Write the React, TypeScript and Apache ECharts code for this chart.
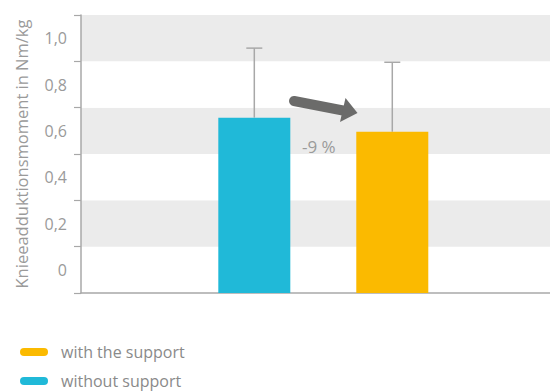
import React, { useEffect, useRef } from "react";
import * as echarts from "echarts";

const seriesNames = ["without support", "with the support"];
const positions = [1, 2];
const barValues = [0.757, 0.696];
const errorHigh = [1.057, 0.996];
const colors = ["#20B9D8", "#FBBA00"];
const tickLabels = ["0", "0,2", "0,4", "0,6", "0,8", "1,0"];
const changeLabel = "-9 %";
const axisName = "Knieeadduktionsmoment in Nm/kg";

const FONT = "Open Sans";
const TEXT_GRAY = "#9a9a9a";
const pill = "path://M4,0 L24,0 A4,4 0 0 1 24,8 L4,8 A4,4 0 0 1 4,0 Z";

export default function App() {
  const ref = useRef<HTMLDivElement>(null);
  useEffect(() => {
    if (!ref.current) return;
    const chart = echarts.init(ref.current, null, { renderer: "svg" });
    const option: any = {
      animation: false,
      backgroundColor: "#ffffff",
      grid: { left: 81, right: 0, top: 15, bottom: 99, containLabel: false },
      xAxis: {
        type: "value",
        min: -0.256,
        max: 3.143,
        axisLine: { show: true, onZero: false, lineStyle: { color: "#a8a8a8", width: 1.5 } },
        axisTick: { show: false },
        axisLabel: { show: false },
        splitLine: { show: false },
      },
      yAxis: [
        {
          type: "value",
          min: 0,
          max: 1.2,
          interval: 0.2,
          position: "left",
          name: axisName,
          nameLocation: "middle",
          nameGap: 51,
          nameTextStyle: { color: TEXT_GRAY, fontSize: 16.5, fontFamily: FONT },
          axisLine: { show: true, onZero: false, lineStyle: { color: "#a8a8a8", width: 1.5 } },
          axisTick: { show: true, length: 7, lineStyle: { color: "#a8a8a8", width: 1.2 } },
          axisLabel: { show: false },
          splitLine: { show: false },
          splitArea: { show: true, areaStyle: { color: ["#ffffff", "#ebebeb"] } },
        },
        {
          type: "value",
          min: 0,
          max: 1.2,
          interval: 0.1,
          position: "left",
          offset: 0,
          alignTicks: false,
          axisLine: { show: false, onZero: false },
          axisTick: { show: false },
          splitLine: { show: false },
          splitArea: { show: false },
          axisLabel: {
            show: true,
            margin: 14,
            color: TEXT_GRAY,
            fontSize: 16,
            fontFamily: FONT,
            formatter: (v: number) => {
              const k = Math.round(v * 10);
              if (k % 2 === 1) return tickLabels[(k - 1) / 2] ?? "";
              return "";
            },
          },
        },
      ],
      legend: {
        orient: "vertical",
        left: 15,
        top: 339,
        height: 80,
        itemWidth: 28,
        itemHeight: 8,
        itemGap: 13,
        icon: pill,
        data: ["with the support", "without support"],
        textStyle: { color: "#8a8a8a", fontSize: 16, fontFamily: FONT, padding: [0, 0, 0, 8] },
      },
      series: [
        ...seriesNames.map((name, i) => ({
          name,
          type: "bar",
          xAxisIndex: 0,
          yAxisIndex: 0,
          barWidth: 72,
          barGap: "-100%",
          itemStyle: { color: colors[i] },
          data: [[positions[i], barValues[i]]],
          z: 2,
        })),
        {
          name: "error",
          type: "custom",
          xAxisIndex: 0,
          yAxisIndex: 0,
          z: 1,
          data: positions.map((p, i) => [p, barValues[i], errorHigh[i]]),
          encode: { x: 0, y: [1, 2] },
          renderItem: (params: any, api: any) => {
            const x = api.value(0);
            const lo = api.coord([x, api.value(1)]);
            const hi = api.coord([x, api.value(2)]);
            const style = { stroke: "#a8a8a8", lineWidth: 1.5 };
            return {
              type: "group",
              children: [
                { type: "line", shape: { x1: lo[0], y1: lo[1], x2: hi[0], y2: hi[1] }, style },
                { type: "line", shape: { x1: hi[0] - 8, y1: hi[1], x2: hi[0] + 8, y2: hi[1] }, style },
              ],
            };
          },
        },
      ],
      graphic: [
        {
          type: "polyline",
          shape: { points: [[294, 101], [343, 110.5]] },
          style: { stroke: "#6b6b6a", lineWidth: 10, lineCap: "round", fill: null },
          z: 10,
        },
        {
          type: "polygon",
          shape: { points: [[345.5, 98], [357.5, 113], [340, 122]] },
          style: { fill: "#6b6b6a" },
          z: 10,
        },
        {
          type: "text",
          left: 302,
          top: 138,
          style: { text: changeLabel, fill: TEXT_GRAY, fontSize: 17, fontFamily: FONT },
          z: 10,
        },
      ],
    };
    chart.setOption(option);
    return () => chart.dispose();
  }, []);
  return <div ref={ref} style={{ width: 550, height: 392, position: "absolute", left: 0, top: 0 }} />;
}
